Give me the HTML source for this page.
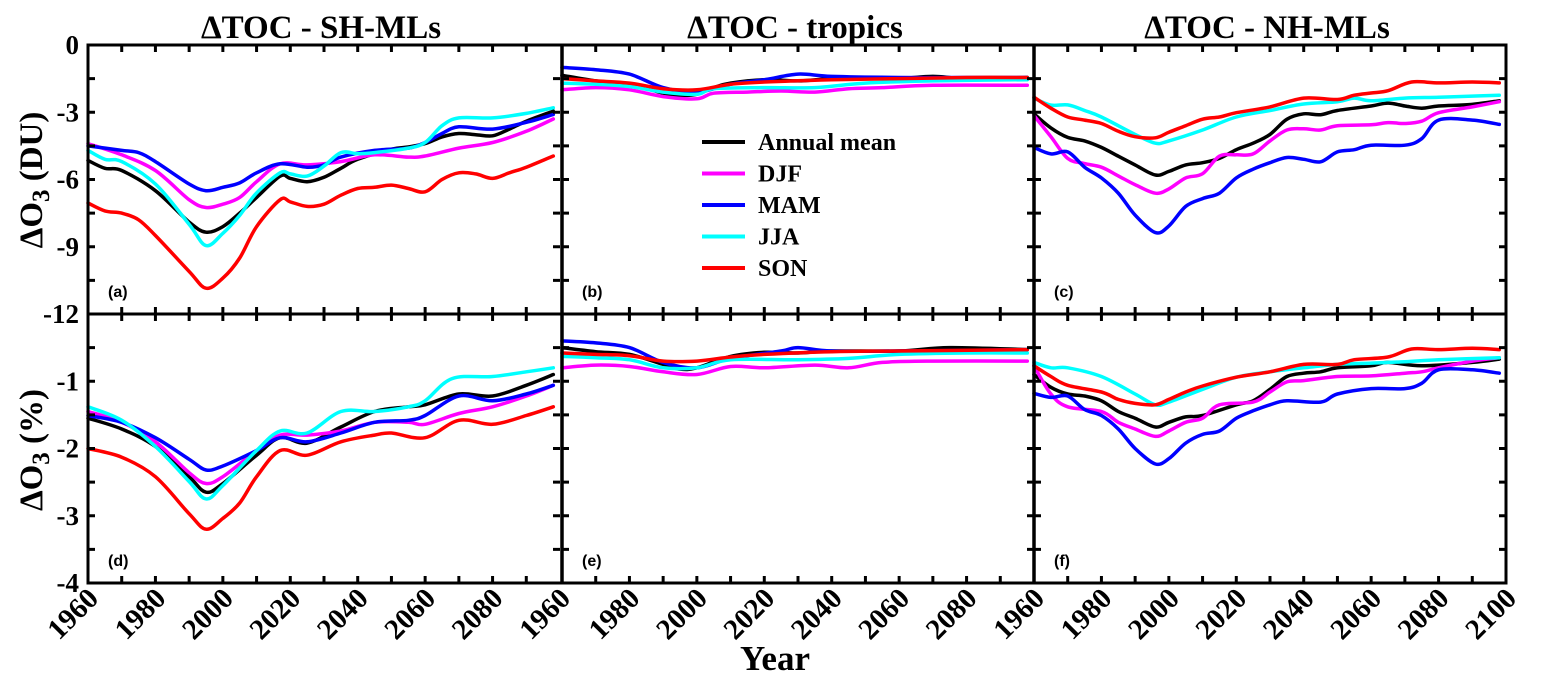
<!DOCTYPE html>
<html><head><meta charset="utf-8"><style>
html,body{margin:0;padding:0;background:#fff;}
svg text{font-family:"Liberation Serif",serif;font-weight:bold;fill:#000;}
</style></head><body>
<svg id="chart" width="1541" height="686" xmlns="http://www.w3.org/2000/svg"></svg>
<script>
// ---- data ----
const seriesNames = ["Annual mean","DJF","MAM","JJA","SON"];
const seriesColors = ["#000000","#ff00ff","#0000ff","#00ffff","#ff0000"];
const panelTitles = ["ΔTOC - SH-MLs","ΔTOC -  tropics","ΔTOC - NH-MLs"];
const xTickLabels = ["1960","1980","2000","2020","2040","2060","2080"];
const yTicksDU = ["0","-3","-6","-9","-12"];
const yTicksPct = ["-1","-2","-3","-4"];
// panel a (DU)
const aBlack = [[1960,-5.15],[1965,-5.5],[1970,-5.6],[1980,-6.5],[1990,-7.9],[1995,-8.35],[2000,-8.1],[2005,-7.5],[2010,-6.8],[2017,-5.85],[2020,-5.95],[2025,-6.1],[2030,-5.9],[2035,-5.5],[2040,-5.1],[2050,-4.65],[2055,-4.55],[2060,-4.4],[2065,-4.1],[2070,-3.95],[2075,-4.0],[2080,-4.05],[2085,-3.75],[2090,-3.4],[2098,-2.95]];
const aDJF = [[1960,-4.4],[1970,-4.9],[1980,-5.6],[1990,-6.9],[1995,-7.25],[2000,-7.1],[2005,-6.8],[2010,-6.1],[2017,-5.3],[2025,-5.35],[2035,-5.2],[2045,-4.9],[2055,-5.0],[2060,-4.95],[2070,-4.6],[2080,-4.35],[2090,-3.85],[2098,-3.3]];
const aMAM = [[1960,-4.5],[1970,-4.7],[1975,-4.8],[1980,-5.2],[1990,-6.2],[1995,-6.5],[2000,-6.35],[2005,-6.15],[2010,-5.7],[2017,-5.3],[2025,-5.45],[2030,-5.35],[2035,-5.0],[2045,-4.7],[2055,-4.6],[2060,-4.35],[2065,-3.95],[2070,-3.65],[2080,-3.75],[2090,-3.45],[2098,-3.1]];
const aJJA = [[1960,-4.7],[1965,-5.1],[1970,-5.2],[1980,-6.2],[1990,-8.0],[1995,-8.95],[2000,-8.4],[2005,-7.6],[2010,-6.6],[2017,-5.7],[2020,-5.75],[2025,-5.85],[2030,-5.4],[2035,-4.8],[2040,-4.85],[2045,-4.8],[2055,-4.6],[2060,-4.35],[2065,-3.6],[2070,-3.25],[2080,-3.25],[2090,-3.05],[2098,-2.8]];
const aSON = [[1960,-7.05],[1965,-7.4],[1970,-7.5],[1975,-7.8],[1980,-8.5],[1990,-10.1],[1995,-10.85],[2000,-10.4],[2005,-9.5],[2010,-8.1],[2017,-6.9],[2020,-7.0],[2025,-7.2],[2030,-7.1],[2035,-6.7],[2040,-6.4],[2045,-6.35],[2050,-6.25],[2055,-6.4],[2060,-6.55],[2065,-6.0],[2070,-5.7],[2075,-5.75],[2080,-5.95],[2085,-5.7],[2090,-5.45],[2098,-4.95]];
// panel b (DU)
const bBlack = [[1960,-1.35],[1970,-1.6],[1980,-1.75],[1990,-2.15],[1995,-2.25],[2000,-2.2],[2005,-1.9],[2010,-1.7],[2020,-1.55],[2030,-1.6],[2040,-1.5],[2050,-1.5],[2060,-1.5],[2070,-1.4],[2080,-1.5],[2098,-1.45]];
const bDJF = [[1960,-2.0],[1970,-1.9],[1980,-2.0],[1990,-2.3],[2000,-2.4],[2005,-2.15],[2015,-2.1],[2025,-2.05],[2035,-2.1],[2045,-1.95],[2055,-1.9],[2070,-1.8],[2098,-1.8]];
const bMAM = [[1960,-1.0],[1970,-1.1],[1980,-1.3],[1990,-1.9],[2000,-2.1],[2010,-1.75],[2020,-1.55],[2030,-1.3],[2040,-1.4],[2060,-1.45],[2080,-1.45],[2098,-1.45]];
const bJJA = [[1960,-1.7],[1970,-1.75],[1980,-1.85],[1990,-2.1],[2000,-2.2],[2005,-1.95],[2020,-1.9],[2035,-1.9],[2050,-1.7],[2070,-1.6],[2098,-1.55]];
const bSON = [[1960,-1.5],[1970,-1.6],[1980,-1.7],[1990,-1.95],[2000,-2.0],[2010,-1.75],[2020,-1.65],[2040,-1.55],[2060,-1.5],[2080,-1.45],[2098,-1.45]];
// panel c (DU)
const cBlack = [[1960,-3.07],[1965,-3.7],[1970,-4.12],[1975,-4.28],[1980,-4.57],[1985,-4.96],[1990,-5.35],[1996,-5.8],[2000,-5.64],[2005,-5.35],[2010,-5.25],[2015,-5.06],[2020,-4.67],[2025,-4.38],[2030,-3.99],[2035,-3.31],[2040,-3.07],[2045,-3.11],[2050,-2.92],[2060,-2.72],[2065,-2.59],[2070,-2.72],[2075,-2.82],[2080,-2.72],[2090,-2.65],[2098,-2.49]];
const cDJF = [[1960,-3.15],[1965,-4.09],[1970,-5.06],[1975,-5.29],[1980,-5.45],[1985,-5.84],[1990,-6.23],[1996,-6.61],[2000,-6.42],[2005,-5.93],[2010,-5.74],[2015,-4.96],[2020,-4.9],[2025,-4.86],[2030,-4.28],[2035,-3.79],[2040,-3.74],[2045,-3.79],[2050,-3.6],[2060,-3.56],[2065,-3.46],[2070,-3.5],[2075,-3.4],[2080,-3.02],[2090,-2.76],[2098,-2.53]];
const cMAM = [[1960,-4.57],[1965,-4.86],[1970,-4.77],[1975,-5.45],[1980,-5.93],[1985,-6.61],[1990,-7.59],[1996,-8.37],[2000,-8.07],[2005,-7.2],[2010,-6.85],[2015,-6.61],[2020,-5.93],[2025,-5.54],[2030,-5.25],[2035,-5.02],[2040,-5.1],[2045,-5.21],[2050,-4.77],[2055,-4.67],[2060,-4.47],[2070,-4.47],[2075,-4.18],[2080,-3.35],[2090,-3.35],[2098,-3.54]];
const cJJA = [[1960,-2.37],[1965,-2.68],[1970,-2.67],[1975,-2.92],[1980,-3.21],[1990,-3.99],[1996,-4.38],[2000,-4.28],[2010,-3.79],[2020,-3.21],[2030,-2.92],[2040,-2.63],[2050,-2.53],[2055,-2.37],[2060,-2.49],[2070,-2.37],[2080,-2.33],[2090,-2.28],[2098,-2.24]];
const cSON = [[1960,-2.33],[1965,-2.82],[1970,-3.21],[1975,-3.35],[1980,-3.5],[1985,-3.85],[1990,-4.09],[1996,-4.14],[2000,-3.89],[2005,-3.6],[2010,-3.31],[2015,-3.21],[2020,-3.02],[2030,-2.76],[2040,-2.37],[2050,-2.43],[2055,-2.24],[2060,-2.14],[2065,-2.04],[2072,-1.65],[2080,-1.69],[2090,-1.65],[2098,-1.69]];
// panel d (%)
const dBlack = [[1960,-1.55],[1970,-1.71],[1980,-1.97],[1990,-2.42],[1995,-2.65],[2000,-2.52],[2010,-2.1],[2017,-1.84],[2025,-1.92],[2035,-1.68],[2045,-1.45],[2055,-1.38],[2060,-1.35],[2070,-1.19],[2080,-1.22],[2090,-1.06],[2098,-0.9]];
const dDJF = [[1960,-1.45],[1970,-1.61],[1980,-1.9],[1990,-2.36],[1995,-2.52],[2000,-2.42],[2010,-2.03],[2017,-1.8],[2025,-1.8],[2035,-1.74],[2045,-1.61],[2055,-1.61],[2060,-1.64],[2070,-1.48],[2080,-1.38],[2090,-1.22],[2098,-1.06]];
const dMAM = [[1960,-1.51],[1970,-1.61],[1980,-1.84],[1990,-2.16],[1995,-2.32],[2000,-2.26],[2010,-2.03],[2017,-1.84],[2025,-1.9],[2035,-1.77],[2045,-1.61],[2055,-1.58],[2060,-1.51],[2070,-1.22],[2080,-1.29],[2090,-1.19],[2098,-1.06]];
const dJJA = [[1960,-1.38],[1970,-1.58],[1980,-1.97],[1990,-2.49],[1995,-2.75],[2000,-2.55],[2010,-2.03],[2017,-1.74],[2025,-1.77],[2035,-1.45],[2045,-1.45],[2055,-1.38],[2060,-1.29],[2068,-0.96],[2080,-0.93],[2090,-0.86],[2098,-0.8]];
const dSON = [[1960,-2.0],[1970,-2.13],[1980,-2.42],[1990,-2.97],[1995,-3.2],[2000,-3.04],[2005,-2.81],[2010,-2.42],[2017,-2.03],[2025,-2.1],[2035,-1.9],[2045,-1.8],[2050,-1.77],[2060,-1.84],[2070,-1.58],[2080,-1.64],[2090,-1.51],[2098,-1.38]];
// panel e (%)
const eBlack = [[1960,-0.5],[1970,-0.56],[1980,-0.6],[1990,-0.75],[1995,-0.82],[2000,-0.8],[2010,-0.63],[2020,-0.57],[2030,-0.58],[2040,-0.55],[2060,-0.55],[2075,-0.5],[2098,-0.53]];
const eDJF = [[1960,-0.8],[1970,-0.76],[1980,-0.78],[1990,-0.86],[2000,-0.9],[2010,-0.78],[2020,-0.8],[2035,-0.76],[2045,-0.8],[2055,-0.72],[2070,-0.7],[2098,-0.7]];
const eMAM = [[1960,-0.4],[1970,-0.43],[1980,-0.5],[1990,-0.72],[2000,-0.8],[2010,-0.66],[2025,-0.55],[2030,-0.5],[2040,-0.55],[2060,-0.55],[2098,-0.53]];
const eJJA = [[1960,-0.63],[1970,-0.65],[1980,-0.68],[1990,-0.8],[2000,-0.8],[2010,-0.68],[2030,-0.68],[2045,-0.66],[2060,-0.6],[2080,-0.58],[2098,-0.58]];
const eSON = [[1960,-0.58],[1970,-0.6],[1980,-0.62],[1990,-0.7],[2000,-0.7],[2010,-0.64],[2020,-0.6],[2040,-0.56],[2060,-0.55],[2098,-0.53]];
// panel f (%)
const fBlack = [[1960,-0.9],[1965,-1.09],[1970,-1.19],[1975,-1.22],[1980,-1.29],[1985,-1.45],[1990,-1.55],[1996,-1.68],[2000,-1.61],[2005,-1.53],[2010,-1.51],[2020,-1.35],[2025,-1.29],[2030,-1.12],[2035,-0.93],[2040,-0.88],[2045,-0.86],[2050,-0.8],[2060,-0.77],[2065,-0.72],[2075,-0.77],[2090,-0.72],[2098,-0.67]];
const fDJF = [[1960,-0.77],[1965,-1.19],[1970,-1.38],[1980,-1.45],[1985,-1.61],[1990,-1.71],[1996,-1.82],[2000,-1.74],[2005,-1.61],[2010,-1.55],[2015,-1.35],[2025,-1.31],[2030,-1.16],[2035,-1.01],[2040,-0.99],[2050,-0.93],[2060,-0.92],[2070,-0.88],[2075,-0.86],[2080,-0.8],[2090,-0.7],[2098,-0.65]];
const fMAM = [[1960,-1.18],[1965,-1.24],[1970,-1.22],[1975,-1.42],[1980,-1.51],[1985,-1.71],[1990,-2.0],[1996,-2.23],[2000,-2.15],[2005,-1.92],[2010,-1.79],[2015,-1.74],[2020,-1.55],[2025,-1.44],[2030,-1.35],[2035,-1.29],[2045,-1.31],[2050,-1.19],[2060,-1.11],[2070,-1.11],[2075,-1.03],[2080,-0.83],[2090,-0.83],[2098,-0.88]];
const fJJA = [[1960,-0.72],[1965,-0.8],[1970,-0.8],[1980,-0.93],[1990,-1.19],[1996,-1.35],[2000,-1.31],[2010,-1.12],[2020,-0.94],[2030,-0.86],[2040,-0.8],[2050,-0.75],[2060,-0.73],[2070,-0.71],[2080,-0.68],[2098,-0.65]];
const fSON = [[1960,-0.77],[1965,-0.93],[1970,-1.06],[1980,-1.16],[1985,-1.27],[1990,-1.33],[1996,-1.35],[2000,-1.27],[2005,-1.16],[2010,-1.07],[2020,-0.94],[2030,-0.86],[2040,-0.75],[2050,-0.75],[2055,-0.68],[2065,-0.64],[2072,-0.52],[2080,-0.53],[2090,-0.51],[2098,-0.53]];

const panelSeries = [
  [aBlack,aDJF,aMAM,aJJA,aSON],[bBlack,bDJF,bMAM,bJJA,bSON],[cBlack,cDJF,cMAM,cJJA,cSON],
  [dBlack,dDJF,dMAM,dJJA,dSON],[eBlack,eDJF,eMAM,eJJA,eSON],[fBlack,fDJF,fMAM,fJJA,fSON]];
const panelLetters = ["(a)","(b)","(c)","(d)","(e)","(f)"];

// ---- layout ----
const svg = document.getElementById('chart');
const NS = "http://www.w3.org/2000/svg";
const colX = [88, 562, 1034], colW = 472;
const rowY = [45, 314], rowH = [269, 269];
const rowMin = [-12, -4];
function mk(tag, attrs, parent){const e=document.createElementNS(NS,tag);for(const k in attrs)e.setAttribute(k,attrs[k]);(parent||svg).appendChild(e);return e;}
function xScale(col, yr){return colX[col] + (yr-1960)/140*colW;}
function yScale(row, v){return rowY[row] + (0 - v)/(0 - rowMin[row])*rowH[row];}
function smoothPath(pts){
  let d = `M${pts[0][0].toFixed(1)},${pts[0][1].toFixed(1)}`;
  for(let i=0;i<pts.length-1;i++){
    const p0=pts[Math.max(0,i-1)],p1=pts[i],p2=pts[i+1],p3=pts[Math.min(pts.length-1,i+2)];
    const c1x=p1[0]+(p2[0]-p0[0])/6,c1y=p1[1]+(p2[1]-p0[1])/6;
    const c2x=p2[0]-(p3[0]-p1[0])/6,c2y=p2[1]-(p3[1]-p1[1])/6;
    d+=` C${c1x.toFixed(1)},${c1y.toFixed(1)} ${c2x.toFixed(1)},${c2y.toFixed(1)} ${p2[0].toFixed(1)},${p2[1].toFixed(1)}`;
  }
  return d;
}

for(let p=0;p<6;p++){
  const row = Math.floor(p/3), col = p%3;
  const g = mk('g',{});
  
  
  panelSeries[p].forEach((s, si) => {
    const pts = s.map(d => [xScale(col,d[0]), yScale(row,d[1])]);
    const path = mk('path',{d:smoothPath(pts),fill:'none',stroke:seriesColors[si],'stroke-width':3.5,'stroke-linejoin':'round','stroke-linecap':'round'},g);
    
    
  });
  const x0=colX[col], x1=colX[col]+colW, y0=rowY[row], y1=rowY[row]+rowH[row];
  for(let yr=1970; yr<2100; yr+=10){
    const x=xScale(col,yr);
    mk('line',{x1:x,y1:y0,x2:x,y2:y0+7,stroke:'#000','stroke-width':3},g);
    mk('line',{x1:x,y1:y1,x2:x,y2:y1-7,stroke:'#000','stroke-width':3},g);
  }
  const step = row===0 ? 1.5 : 0.5;
  for(let v=-step; v>rowMin[row]+0.01; v-=step){
    const y=yScale(row,v);
    mk('line',{x1:x0,y1:y,x2:x0+7,y2:y,stroke:'#000','stroke-width':3},g);
    mk('line',{x1:x1,y1:y,x2:x1-7,y2:y,stroke:'#000','stroke-width':3},g);
  }
  const lt = mk('text',{x:x0+20,y:y1-17,'font-size':16,style:'font-family:"Liberation Sans",sans-serif'},g);
  lt.textContent = panelLetters[p];
  
  
}
const frame = mk('g',{});


mk('rect',{x:88,y:45,width:1418,height:538,fill:'none',stroke:'#000','stroke-width':3},frame);
mk('line',{x1:88,y1:314,x2:1506,y2:314,stroke:'#000','stroke-width':3},frame);
mk('line',{x1:562,y1:45,x2:562,y2:583,stroke:'#000','stroke-width':3.5},frame);
mk('line',{x1:1034,y1:45,x2:1034,y2:583,stroke:'#000','stroke-width':3.5},frame);

panelTitles.forEach((t,i)=>{
  const e = mk('text',{x:colX[i]+colW/2-3,y:38,'text-anchor':'middle','font-size':33});
  e.textContent = t;
  
  
});
yTicksDU.forEach(l=>{
  const e = mk('text',{x:79,y:yScale(0,parseFloat(l))+9,'text-anchor':'end','font-size':27});
  e.textContent = l;
  
  
});
yTicksPct.forEach(l=>{
  const e = mk('text',{x:79,y:yScale(1,parseFloat(l))+9,'text-anchor':'end','font-size':27});
  e.textContent = l;
  
  
});
for(let c=0;c<3;c++){
  const labels = xTickLabels.concat([c===2 ? "2100" : "1960"]);
  labels.forEach((l,k)=>{
    if(c>0 && k===0) return;
    const x = colX[c] + k*20/140*colW + 12, y = 600;
    const e = mk('text',{x:x,y:y,'text-anchor':'end','font-size':29,transform:`rotate(-45 ${x} ${y})`});
    e.textContent = l;
    
    
  });
}
let e = mk('text',{x:775,y:670,'text-anchor':'middle','font-size':35});
e.textContent = "Year";


e = mk('text',{x:0,y:0,'text-anchor':'middle','font-size':33,transform:'translate(42 180) rotate(-90)'});
e.innerHTML = 'ΔO<tspan dy="7" font-size="25">3</tspan><tspan dy="-7"> (DU)</tspan>';


e = mk('text',{x:0,y:0,'text-anchor':'middle','font-size':33,transform:'translate(42 450) rotate(-90)'});
e.innerHTML = 'ΔO<tspan dy="7" font-size="25">3</tspan><tspan dy="-7"> (%)</tspan>';



const lg = mk('g',{});


seriesNames.forEach((n,i)=>{
  const y = 142 + i*31.5;
  const item = mk('g',{},lg);
  
  
  mk('line',{x1:702,y1:y,x2:745,y2:y,stroke:seriesColors[i],'stroke-width':4},item);
  const t = mk('text',{x:758,y:y+8,'font-size':24},item);
  t.textContent = n;
});
</script>
</body></html>
